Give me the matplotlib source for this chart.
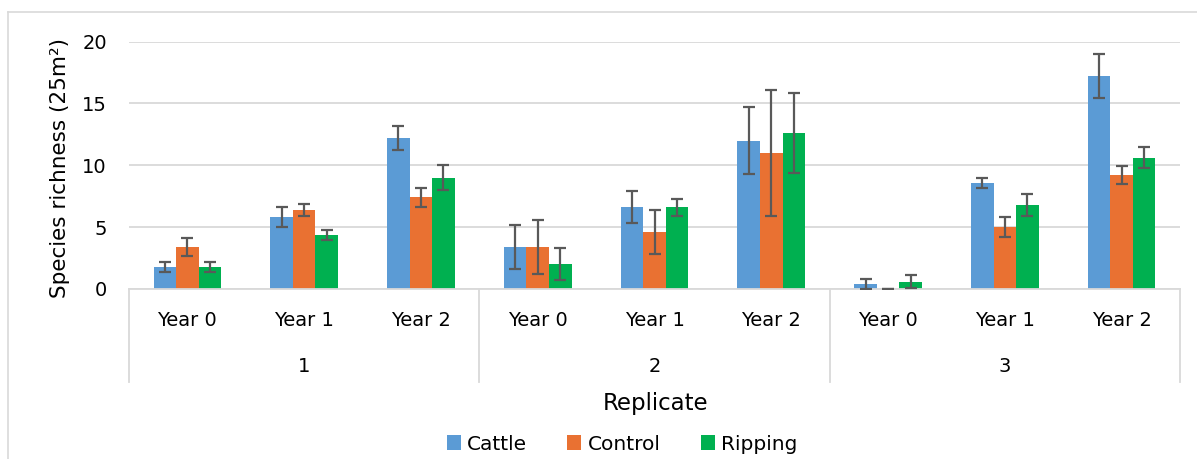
import matplotlib
matplotlib.use("Agg")
import matplotlib.pyplot as plt
import matplotlib.transforms as mtransforms
from matplotlib.lines import Line2D
from matplotlib.patches import Patch
import numpy as np

# ---- data ----
replicates = ["1", "2", "3"]
years = ["Year 0", "Year 1", "Year 2"]
series = ["Cattle", "Control", "Ripping"]
cattle = [1.8, 5.8, 12.2, 3.4, 6.6, 12.0, 0.4, 8.6, 17.2]
cattle_err = [0.4, 0.8, 1.0, 1.75, 1.3, 2.7, 0.4, 0.4, 1.8]
control = [3.4, 6.4, 7.4, 3.4, 4.6, 11.0, 0.0, 5.0, 9.2]
control_err = [0.7, 0.5, 0.75, 2.15, 1.75, 5.1, 0.0, 0.8, 0.75]
ripping = [1.8, 4.4, 9.0, 2.0, 6.6, 12.6, 0.6, 6.8, 10.6]
ripping_err = [0.4, 0.4, 1.0, 1.3, 0.7, 3.2, 0.55, 0.9, 0.85]
y_ticks = [0, 5, 10, 15, 20]

colors = ["#5B9BD5", "#E97132", "#00B050"]
grid_c = "#D9D9D9"
err_c = "#595959"

plt.rcParams["font.family"] = ["DejaVu Sans"]

W, H = 1197, 459
fig = plt.figure(figsize=(W / 100, H / 100), dpi=100)

def fy(py):
    return 1 - py / H

def fx(px):
    return px / W

ax = fig.add_axes([fx(129), fy(289), fx(1180) - fx(129), fy(41.5) - fy(289)])

n = len(replicates) * len(years)
x = np.arange(n)
bw = 0.193
vals = [cattle, control, ripping]
errs = [cattle_err, control_err, ripping_err]
for i, (v, e, c, name) in enumerate(zip(vals, errs, colors, series)):
    xs = x + (i - 1) * bw
    ax.bar(xs, v, width=bw, color=c, edgecolor="none", zorder=2, label=name)
    ax.errorbar(xs, v, yerr=e, fmt="none", ecolor=err_c, elinewidth=1.6,
                capsize=4.6, capthick=1.6, zorder=3)

ax.set_xlim(-0.5, n - 0.5)
ax.set_ylim(0, 20)
ax.set_yticks(y_ticks)
ax.yaxis.grid(True, color=grid_c, linewidth=1.3, zorder=0)
ax.set_axisbelow(True)
for s in ["top", "right", "left"]:
    ax.spines[s].set_visible(False)
ax.spines["bottom"].set_color(grid_c)
ax.spines["bottom"].set_linewidth(1.3)
ax.set_xticks([])
ax.tick_params(axis="y", length=0, pad=16, labelsize=14, labelcolor="#000000")

fig.text(fx(60), fy(168), "Species richness (25m²)", rotation=90, ha="center",
         va="center", fontsize=15.5)

trans = mtransforms.blended_transform_factory(ax.transData, fig.transFigure)
# year labels
for k in range(n):
    ax.text(x[k], fy(320), years[k % 3], transform=trans, ha="center", va="center",
            fontsize=14, color="#000000")
# replicate labels
for r in range(len(replicates)):
    ax.text(r * 3 + 1, fy(367), replicates[r], transform=trans, ha="center", va="center",
            fontsize=14, color="#000000")
# separators
for b in [-0.5, 2.5, 5.5, 8.5]:
    ln = Line2D([b, b], [fy(289), fy(382)], transform=trans, color=grid_c,
                linewidth=1.3, clip_on=False)
    ax.add_line(ln)

fig.text(fx(656), fy(403.5), "Replicate", ha="center", va="center", fontsize=16.5)

handles = [Patch(facecolor=c, edgecolor="none") for c in colors]
fig.legend(handles, series, loc="center", bbox_to_anchor=(fx(622), fy(444)),
           ncol=3, frameon=False, fontsize=14.5, handlelength=0.7, handleheight=0.7,
           handletextpad=0.3, columnspacing=2.0, borderaxespad=0, borderpad=0)

# outer frame (partially cropped)
fig.add_artist(Line2D([fx(8), 1], [fy(12), fy(12)], transform=fig.transFigure,
                      color=grid_c, linewidth=1.2))
fig.add_artist(Line2D([fx(8), fx(8)], [fy(12), 0], transform=fig.transFigure,
                      color=grid_c, linewidth=1.2))

fig.savefig("out.png", dpi=100)
